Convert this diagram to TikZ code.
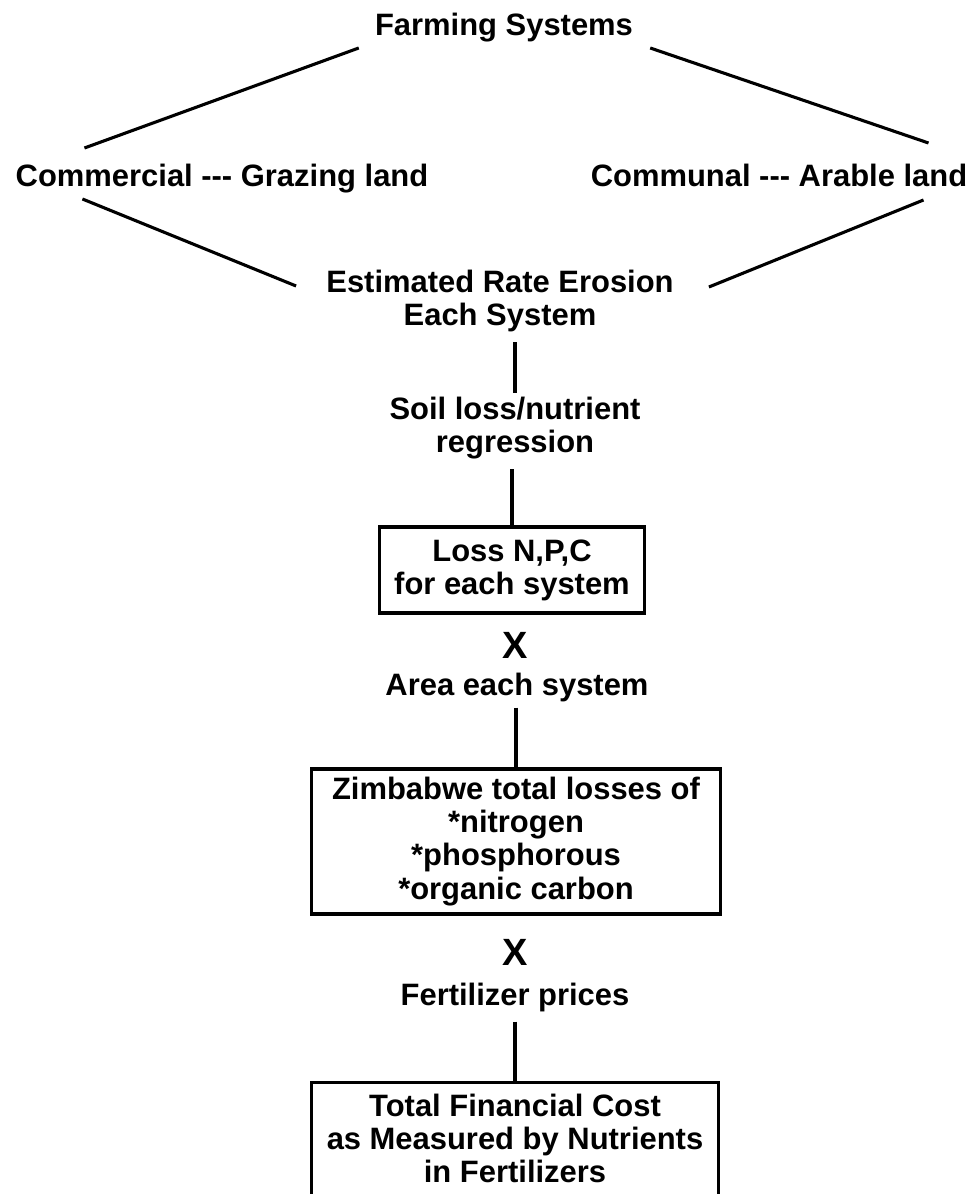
\documentclass[tikz,border=0pt]{standalone}
\usepackage{fontspec}
\setmainfont{Liberation Sans}
\usetikzlibrary{positioning, calc}

\begin{document}
\begin{tikzpicture}[
    x=0.025cm, y=-0.025cm,
    txt/.style={font=\bfseries\fontsize{22}{23.5}\selectfont, align=center, inner sep=0pt},
    line/.style={txt, anchor=base},
    box/.style={txt, draw, line width=2.2pt},
    times/.style={font=\bfseries\fontsize{27}{30}\selectfont, inner sep=0pt, anchor=base},
    link/.style={line width=2.2pt}
]
\useasboundingbox (0,0) rectangle (976,1194);

% Farming systems
\node[line] (farm) at (504,36) {Farming Systems};
\node[line] (comm) at (222,187) {Commercial {-}{-}{-} Grazing land};
\node[line] (communal) at (779,187) {Communal {-}{-}{-} Arable land};
\node[txt] (erosion) at (500,301) {Estimated Rate Erosion\\Each System};

\draw[link] ([shift={(-16,12)}]farm.base west) -- ([shift={(69,-39)}]comm.base west);
\draw[link] ([shift={(17,12)}]farm.base east) -- ([shift={(-39,-44)}]communal.base east);
\draw[link] ([shift={(67,12)}]comm.base west) -- ([shift={(-30,-15)}]erosion.west);
\draw[link] ([shift={(-44,13)}]communal.base east) -- ([shift={(35,-14)}]erosion.east);

% Regression
\node[txt] (soil) at (515,428) {Soil loss/nutrient\\regression};
\draw[link] ($(soil.north |- erosion.south)+(0,10)$) -- ($(soil.north)+(0,-4)$);

% Loss per system
\node[box, minimum width=6.625cm, minimum height=2.15cm] (lossbox) at (512,570) {Loss N,P,C\\for each system};
\draw[link] ($(lossbox.north |- soil.south)+(0,10)$) -- (lossbox);

\node[times] (x1) at (515,658) {X};
\node[line] (area) at (517,695) {Area each system};

% Total losses
\node[box, minimum width=10.225cm, minimum height=3.625cm] (zimbox) at (516,841.5) {Zimbabwe total losses of\\*nitrogen\\*phosphorous\\*organic carbon};
\draw[link] ($(zimbox.north |- area.south)+(0,6)$) -- (zimbox);

\node[times] (x2) at (515,965) {X};
\node[line] (prices) at (515,1005) {Fertilizer prices};

% Financial cost (cut at page bottom)
\node[txt, minimum width=10.15cm, minimum height=2.775cm] (costbox) at (515,1138.5) {Total Financial Cost\\as Measured by Nutrients\\in Fertilizers};
\draw[link] (costbox.south west) -- (costbox.north west) -- (costbox.north east) -- (costbox.south east);
\draw[link] ($(costbox.north |- prices.south)+(0,10)$) -- (costbox);

\end{tikzpicture}
\end{document}
